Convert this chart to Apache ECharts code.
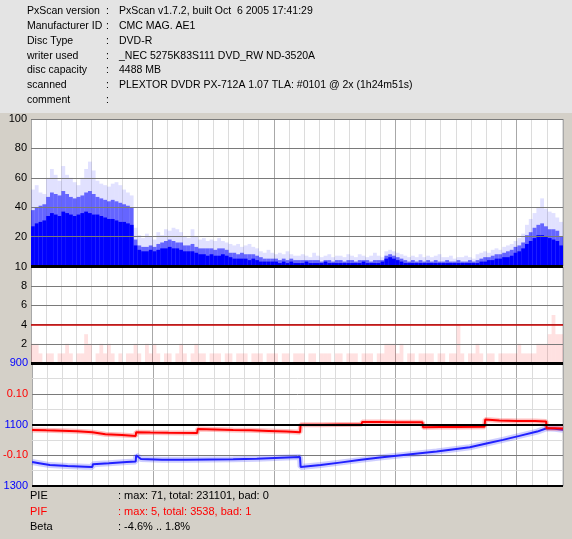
<!DOCTYPE html>
<html>
<head>
<meta charset="utf-8">
<script src="https://cdn.jsdelivr.net/npm/echarts@6/dist/echarts.min.js"></script>
<style>
  html, body { margin: 0; padding: 0; background: #d4d0c8; }
  #chart { width: 572px; height: 539px; }
</style>
</head>
<body>
<div id="chart"></div>
<script>
// PIE samples per 32 MB block: solid level, denser band, peak envelope
const pieSolid = [27,29,30,31,34,36,35,34,37,36, 35,34,35,36,37,36,35,35,34,33,
  32,32,31,30,30,29,28,14,11,10, 10,11,10,11,12,12,13,12,12,11,
  10,10,10,9,8,8,7,8,7,7, 8,7,6,5,5,5,5,4,5,4,
  3,3,3,3,3,2,3,2,3,2, 2,2,3,2,2,2,2,3,2,2,
  2,2,2,2,2,2,2,3,2,2, 2,2,3,5,6,5,4,3,2,2,
  2,2,2,2,2,2,2,2,2,2, 2,2,2,2,2,2,2,2,3,3,
  4,4,5,5,6,6,7,9,10,12, 15,17,19,21,21,20,19,18,17,14]
const pieMid = [38,40,41,42,47,50,49,48,51,49, 47,46,47,48,50,51,49,47,46,45,
  44,45,44,43,42,41,40,18,14,13, 13,14,13,15,16,17,18,17,16,16,
  14,14,15,13,12,12,12,12,11,12, 12,11,9,9,8,9,8,8,8,7,
  6,5,5,5,5,4,5,4,5,4, 4,4,4,4,4,4,3,4,4,3,
  4,4,3,4,4,3,4,4,4,3, 4,4,4,7,8,7,6,5,4,3,
  4,3,4,3,4,3,4,3,3,4, 3,3,4,3,3,4,3,4,5,6,
  6,7,8,8,9,10,11,13,14,16, 21,23,26,28,29,27,25,25,24,20]
const piePeak = [52,55,50,49,60,66,62,58,68,62, 60,57,55,60,66,71,65,58,56,55,
  54,56,57,55,52,50,48,26,21,19, 22,20,18,23,21,25,24,26,25,23,
  20,19,25,20,18,19,17,18,17,19, 17,16,15,14,15,13,14,15,13,12,
  10,9,11,9,8,9,8,10,8,7, 7,8,7,6,9,7,6,7,8,6,
  7,7,6,8,7,6,8,7,6,7, 9,7,6,10,11,10,9,8,7,6,
  7,6,8,6,7,6,7,8,6,6, 7,5,6,6,7,6,5,8,9,10,
  9,11,12,11,13,14,15,17,19,22, 28,32,36,40,46,39,37,36,33,30]

// PIF samples per 32 MB block
const pifVals = [2,2,1,0,1,1,0,1,1,2, 1,0,1,1,3,2,0,1,2,1,
  2,1,0,1,0,1,1,2,1,0, 2,1,2,1,0,1,1,0,1,2,
  1,0,1,2,1,1,0,1,1,1, 0,1,1,0,1,1,1,0,1,1,
  1,0,1,1,1,0,1,1,0,1, 1,1,0,1,1,0,1,1,1,0,
  1,1,0,1,1,1,0,1,1,1, 0,1,1,2,2,2,1,2,0,1,
  1,0,1,1,1,1,0,1,1,0, 1,1,4,1,0,1,1,2,1,0,
  1,1,0,1,1,1,1,1,2,1, 1,1,1,2,2,2,3,5,3,3]

// Beta (red) and jitter (blue) traces, position in MB
const betaMB = [0,120,250,380,510, 514,620,760,876,880, 1000,1150,1395,1400,1550,
  1700,1850,2000,2150,2265, 2270,2450,2600,2785,2790, 2950,3100,3300,3305,3450,
  3600,3825,3830,3950,4100, 4250,4345,4350,4420,4488]
const betaVal = [-0.018,-0.019,-0.020,-0.022,-0.025, -0.031,-0.032,-0.034,-0.037,-0.025,
  -0.026,-0.027,-0.028,-0.015,-0.016, -0.018,-0.019,-0.021,-0.023,-0.025,
  -0.001,-0.001,0.000,0.001,0.008, 0.008,0.007,0.007,-0.009,-0.008,
  -0.008,-0.007,0.016,0.013,0.011, 0.011,0.010,-0.012,-0.012,-0.013]
const jitterMB = [0,60,150,300,450, 510,514,650,800,876, 880,920,1100,1300,1500,
  1700,1900,2100,2265,2270, 2440,2600,2780,2940,3140, 3420,3700,3850,3980,4120,
  4270,4350,4420,4488]
const jitterVal = [1222,1226,1232,1235,1237, 1238,1229,1226,1222,1220, 1200,1212,1215,1215,1214,
  1213,1211,1208,1206,1238, 1232,1224,1215,1207,1199, 1188,1174,1161,1150,1137,
  1123,1112,1114,1117]

const pieTicks = ['100', '80', '60', '40', '20']
const pifTicks = ['10', '8', '6', '4', '2']
const jitterTicks = ['900', '1100', '1300']

const headerRows = [
  ['PxScan version', 'PxScan v1.7.2, built Oct  6 2005 17:41:29'],
  ['Manufacturer ID', 'CMC MAG. AE1'],
  ['Disc Type', 'DVD-R'],
  ['writer used', '_NEC 5275K83S111 DVD_RW ND-3520A'],
  ['disc capacity', '4488 MB'],
  ['scanned', 'PLEXTOR DVDR PX-712A 1.07 TLA: #0101 @ 2x (1h24m51s)'],
  ['comment', '']
]
const footerRows = [
  ['PIE', ': max: 71, total: 231101, bad: 0', '#000000'],
  ['PIF', ': max: 5, total: 3538, bad: 1', '#ff0000'],
  ['Beta', ': -4.6% .. 1.8%', '#000000']
]

const HEAD_FONT = '10.5px "Liberation Sans", Arial, sans-serif'
const FONT = '11px "Liberation Sans", Arial, sans-serif'
const DISC_MB = 4488
const blocks = pieSolid.map((v, i) => String(i * 32))

const chart = echarts.init(document.getElementById('chart'))

const graphic = [{
  type: 'rect', left: 0, top: 0, z: -1,
  shape: { width: 572, height: 113 },
  style: { fill: '#e4e4e4' }
}]
headerRows.forEach((r, i) => {
  const y = 11 + i * 14.9
  graphic.push({ type: 'text', x: 27, y, style: { text: r[0], font: HEAD_FONT, fill: '#000', textVerticalAlign: 'middle' } })
  graphic.push({ type: 'text', x: 106, y, style: { text: ':', font: HEAD_FONT, fill: '#000', textVerticalAlign: 'middle' } })
  graphic.push({ type: 'text', x: 119, y, style: { text: r[1], font: HEAD_FONT, fill: '#000', textVerticalAlign: 'middle' } })
})
const footY = [496, 512, 527]
footerRows.forEach((r, i) => {
  graphic.push({ type: 'text', x: 30, y: footY[i], style: { text: r[0], font: FONT, fill: r[2], textVerticalAlign: 'middle' } })
  graphic.push({ type: 'text', x: 118, y: footY[i], style: { text: r[1], font: FONT, fill: r[2], textVerticalAlign: 'middle' } })
})

function minorX (gridIndex) {
  return {
    type: 'value', gridIndex, min: 0, max: DISC_MB, interval: 128,
    axisLine: { show: false }, axisTick: { show: false }, axisLabel: { show: false },
    splitLine: { show: true, lineStyle: { color: '#dcdcdc', width: 1 } }
  }
}
function majorX (gridIndex) {
  return {
    type: 'value', gridIndex, min: 0, max: DISC_MB, interval: 1024, z: 1,
    axisLine: { show: false }, axisTick: { show: false }, axisLabel: { show: false },
    splitLine: { show: true, lineStyle: { color: '#a8a8a8', width: 1 } }
  }
}
const labelStyle = { fontSize: 11, fontFamily: '"Liberation Sans", Arial', color: '#000', margin: 4 }
const noLine = { show: false }

const option = {
  animation: false,
  graphic,
  grid: [
    { left: 31, width: 532, top: 119, height: 147, show: true, backgroundColor: '#fff', borderWidth: 0 },
    { left: 31, width: 532, top: 267, height: 96, show: true, backgroundColor: '#fff', borderWidth: 0 },
    { left: 31, width: 532, top: 363, height: 123, show: true, backgroundColor: '#fff', borderWidth: 0 }
  ],
  xAxis: [
    { type: 'category', gridIndex: 0, data: blocks, show: false },
    minorX(0), majorX(0),
    { type: 'category', gridIndex: 1, data: blocks, show: false },
    minorX(1), majorX(1),
    minorX(2), majorX(2)
  ],
  yAxis: [
    {
      type: 'value', gridIndex: 0, min: 0, max: 100, interval: 20, z: 3,
      axisLine: noLine, axisTick: noLine,
      axisLabel: Object.assign({}, labelStyle, { formatter: v => pieTicks.includes(String(v)) ? String(v) : '' }),
      splitLine: { show: true, lineStyle: { color: '#7a7a7a', width: 1 } }
    },
    {
      type: 'value', gridIndex: 1, min: 0, max: 10, interval: 2, z: 3,
      axisLine: noLine, axisTick: noLine,
      axisLabel: Object.assign({}, labelStyle, { formatter: v => pifTicks.includes(String(v)) ? String(v) : '' }),
      splitLine: { show: true, lineStyle: { color: '#7a7a7a', width: 1 } }
    },
    {
      type: 'value', gridIndex: 2, min: -0.2, max: 0.2, interval: 0.05, z: 3,
      axisLine: noLine, axisTick: noLine,
      axisLabel: Object.assign({}, labelStyle, {
        color: '#ff0000',
        formatter: v => Math.abs(v - 0.1) < 1e-6 ? '0.10' : (Math.abs(v + 0.1) < 1e-6 ? '-0.10' : '')
      }),
      splitLine: { show: true, lineStyle: { color: ['#000000', '#dcdcdc', '#7a7a7a', '#dcdcdc'], width: 1 } }
    },
    {
      type: 'value', gridIndex: 2, min: 900, max: 1300, interval: 200, inverse: true, position: 'left', z: 3,
      axisLine: noLine, axisTick: noLine, splitLine: noLine,
      axisLabel: Object.assign({}, labelStyle, { color: '#0000ff', formatter: v => jitterTicks.includes(String(v)) ? String(v) : '' })
    }
  ],
  series: [
    { type: 'bar', xAxisIndex: 0, yAxisIndex: 0, data: piePeak, barCategoryGap: '0%', barGap: '-100%',
      itemStyle: { color: 'rgba(40,40,255,0.14)' } },
    { type: 'bar', xAxisIndex: 0, yAxisIndex: 0, data: pieMid, barCategoryGap: '0%', barGap: '-100%',
      itemStyle: { color: 'rgba(0,0,255,0.55)' } },
    { type: 'bar', xAxisIndex: 0, yAxisIndex: 0, data: pieSolid, barCategoryGap: '0%', barGap: '-100%',
      itemStyle: { color: '#0000ff' },
      markLine: { silent: true, symbol: 'none', label: { show: false },
        lineStyle: { color: '#000', width: 3, type: 'solid' }, data: [{ yAxis: 0 }] } },
    { type: 'bar', xAxisIndex: 3, yAxisIndex: 1, data: pifVals, barCategoryGap: '0%',
      itemStyle: { color: 'rgba(255,40,40,0.14)' },
      markLine: { silent: true, symbol: 'none', label: { show: false },
        data: [
          { yAxis: 4, lineStyle: { color: '#cc0000', width: 1.5, type: 'solid' } },
          { yAxis: 0, lineStyle: { color: '#000', width: 3, type: 'solid' } }
        ] } },
    { type: 'line', xAxisIndex: 6, yAxisIndex: 3, showSymbol: false, silent: true,
      data: jitterMB.map((x, i) => [x, jitterVal[i]]),
      lineStyle: { color: 'rgba(60,60,255,0.25)', width: 6 } },
    { type: 'line', xAxisIndex: 6, yAxisIndex: 3, showSymbol: false, silent: true,
      data: jitterMB.map((x, i) => [x, jitterVal[i]]),
      lineStyle: { color: '#2020ff', width: 2 } },
    { type: 'line', xAxisIndex: 6, yAxisIndex: 2, showSymbol: false, silent: true,
      data: betaMB.map((x, i) => [x, betaVal[i]]),
      lineStyle: { color: 'rgba(255,40,40,0.3)', width: 5 } },
    { type: 'line', xAxisIndex: 6, yAxisIndex: 2, showSymbol: false, silent: true,
      data: betaMB.map((x, i) => [x, betaVal[i]]),
      lineStyle: { color: '#ff0000', width: 2 },
      markLine: { silent: true, symbol: 'none', label: { show: false },
        lineStyle: { color: '#000', width: 2, type: 'solid' }, data: [{ yAxis: 0 }, { yAxis: -0.2 }] } }
  ]
}

chart.setOption(option)
</script>
</body>
</html>
